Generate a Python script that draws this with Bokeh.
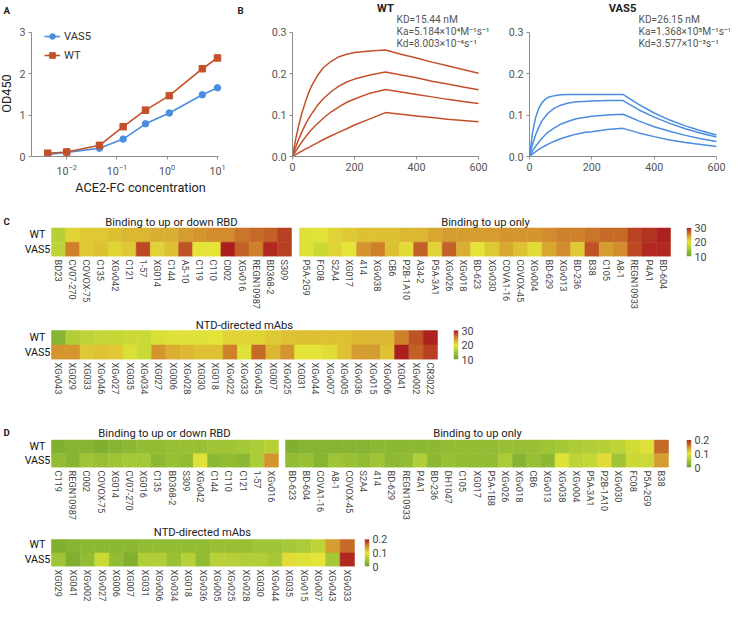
import numpy as np
from bokeh.plotting import figure
from bokeh.models import (ColumnDataSource, LinearColorMapper, Label, FixedTicker,
                          NumeralTickFormatter)
from bokeh.layouts import row, column
from bokeh.embed import file_html
from bokeh.resources import INLINE

# ---------------- data: panel A ----------------
a_conc = [0.0042, 0.010, 0.045, 0.133, 0.37, 1.1, 5.0, 10.0]
a_vas5 = [0.05, 0.10, 0.20, 0.42, 0.79, 1.05, 1.49, 1.66]
a_wt = [0.08, 0.11, 0.27, 0.72, 1.12, 1.47, 2.12, 2.38]

# ---------------- data: panel B ----------------
b_time = [0, 10, 20, 30, 40, 50, 60, 80, 100, 125, 150, 175, 200, 250, 300,
          350, 400, 450, 500, 550, 600]
b_wt_1 = [0, 0.041, 0.075, 0.104, 0.128, 0.150, 0.168, 0.195, 0.215, 0.230, 0.241, 0.247, 0.251, 0.255, 0.257,
          0.247, 0.238, 0.228, 0.219, 0.210, 0.201]
b_wt_2 = [0, 0.022, 0.042, 0.059, 0.075, 0.089, 0.101, 0.123, 0.140, 0.157, 0.170, 0.180, 0.187, 0.197, 0.204,
          0.197, 0.190, 0.182, 0.175, 0.168, 0.161]
b_wt_3 = [0, 0.0125, 0.024, 0.035, 0.045, 0.055, 0.064, 0.079, 0.093, 0.108, 0.120, 0.131, 0.139, 0.153, 0.162,
          0.156, 0.150, 0.144, 0.138, 0.133, 0.128]
b_wt_4 = [0, 0.0045, 0.009, 0.013, 0.017, 0.021, 0.025, 0.033, 0.041, 0.050, 0.059, 0.067, 0.076, 0.091, 0.106,
          0.102, 0.098, 0.094, 0.090, 0.087, 0.084]
b_vas5_1 = [0, 0.059, 0.095, 0.117, 0.130, 0.138, 0.143, 0.147, 0.149, 0.150, 0.150, 0.150, 0.150, 0.150, 0.150,
            0.126, 0.105, 0.088, 0.074, 0.062, 0.052]
b_vas5_2 = [0, 0.030, 0.053, 0.071, 0.086, 0.096, 0.105, 0.117, 0.124, 0.129, 0.132, 0.133, 0.134, 0.135, 0.135,
            0.113, 0.095, 0.080, 0.067, 0.056, 0.047]
b_vas5_3 = [0, 0.0135, 0.025, 0.035, 0.044, 0.052, 0.059, 0.069, 0.078, 0.085, 0.091, 0.094, 0.097, 0.100, 0.102,
            0.086, 0.072, 0.061, 0.051, 0.043, 0.036]
b_vas5_4 = [0, 0.0062, 0.012, 0.017, 0.022, 0.026, 0.030, 0.037, 0.043, 0.049, 0.054, 0.058, 0.060, 0.065, 0.068,
            0.057, 0.048, 0.040, 0.034, 0.029, 0.024]
b_wt_text = ["KD=15.44 nM", "Ka=5.184×10⁴M⁻¹s⁻¹", "Kd=8.003×10⁻⁴s⁻¹"]
b_vas5_text = ["KD=26.15 nM", "Ka=1.368×10⁵M⁻¹s⁻¹", "Kd=3.577×10⁻³s⁻¹"]

# ---------------- data: panel C (range 10-30) ----------------
c_ud_labels = ["BD23", "CV07-270", "COVOX-75", "C135", "XGv042", "C121", "1-57", "XG014", "C144",
               "A5-10", "C119", "C110", "C002", "XGv016", "REGN10987", "BD368-2", "S309"]
c_ud_wt = [16.5, 21, 21.5, 21.5, 22, 22.5, 22.5, 23, 23, 24, 24.5, 25, 25, 26, 26.5, 27, 28.5]
c_ud_vas5 = [17, 25.5, 21.5, 22, 21, 21.5, 28, 21, 22, 27.5, 20, 20, 30, 27, 25.5, 29.5, 28.5]

c_up_labels = ["P5A-2G9", "FC08", "S2A4", "XG017", "414", "XGv038", "CB6", "P2B-1A10", "A34-2",
               "P5A-3A1", "XGv026", "XGv018", "BD-623", "XGv030", "COVA1-16", "COVOX-45", "XGv004",
               "BD-629", "XGv013", "BD-236", "B38", "C105", "A8-1", "REGN10933", "P4A1", "BD-604"]
c_up_wt = [19.5, 20, 21, 21.5, 22, 22, 22, 22.5, 22.5, 23.5, 24, 24, 24, 24, 24.5, 24.5, 24.5,
           25, 25.5, 25.5, 26, 26.5, 26.5, 28.3, 29, 29.8]
c_up_vas5 = [19.5, 18, 21, 20, 24.5, 25.5, 22, 20.5, 27, 21, 27, 23, 20, 21.5, 23.5, 22, 20.5,
             23.5, 25, 21.5, 27.5, 24, 25, 28, 29.5, 29.5]

c_ntd_labels = ["XGv043", "XG029", "XG033", "XGv046", "XGv027", "XG035", "XGv034", "XG027", "XG006",
                "XGv028", "XG030", "XG018", "XGv022", "XGv033", "XGv045", "XG007", "XGv025", "XG031",
                "XGv044", "XGv007", "XGv005", "XGv036", "XGv015", "XGv006", "XG041", "XGv002", "CR3022"]
c_ntd_wt = [12.5, 16, 17, 17.5, 17.5, 18, 18, 19, 19.5, 19.5, 19.5, 20, 21, 21, 21, 21.5, 22, 22,
            22, 22, 22, 22.5, 22.5, 22.5, 25.5, 27.5, 29.8]
c_ntd_vas5 = [24.5, 24.5, 21.5, 22, 21.5, 19, 18, 24.5, 23, 22.5, 22, 22, 25.5, 19.5, 26.5, 22.5,
              24.5, 20, 20, 20.5, 22, 24, 24, 22, 30, 27, 28.5]

# ---------------- data: panel D (range 0-0.2) ----------------
d_ud_labels = ["C119", "REGN10987", "C002", "COVOX-75", "XG014", "CV07-270", "XG016", "C135",
               "BD368-2", "S309", "XGv042", "C144", "C110", "C121", "1-57", "XGv016"]
d_ud_wt = [0.02, 0.025, 0.025, 0.02, 0.025, 0.03, 0.035, 0.035, 0.04, 0.04, 0.04, 0.045, 0.045,
           0.05, 0.055, 0.065]
d_ud_vas5 = [0.035, 0.025, 0.045, 0.04, 0.045, 0.05, 0.05, 0.03, 0.04, 0.035, 0.095, 0.03, 0.035,
             0.03, 0.055, 0.145]

d_up_labels = ["BD-623", "BD-604", "COVA1-16", "A8-1", "COVOX-45", "S2A4", "414", "BD-629",
               "REGN10933", "P4A1", "BD-236", "DH1047", "C105", "XG017", "P5A-1B8", "XGv026",
               "XGv018", "CB6", "XGv013", "XGv038", "XGv004", "P5A-3A1", "P2B-1A10", "XGv030",
               "FC08", "P5A-2G9", "B38"]
d_up_wt = [0.02, 0.025, 0.025, 0.025, 0.025, 0.025, 0.03, 0.03, 0.03, 0.03, 0.03, 0.035, 0.035,
           0.035, 0.035, 0.04, 0.04, 0.04, 0.045, 0.05, 0.055, 0.06, 0.065, 0.07, 0.085, 0.095, 0.165]
d_up_vas5 = [0.035, 0.04, 0.025, 0.045, 0.04, 0.035, 0.045, 0.03, 0.035, 0.06, 0.03, 0.04, 0.035,
             0.035, 0.035, 0.055, 0.025, 0.04, 0.03, 0.095, 0.07, 0.075, 0.105, 0.045, 0.08, 0.08, 0.14]

d_ntd_labels = ["XG029", "XG041", "XGv002", "XGv027", "XG006", "XG007", "XG031", "XGv006", "XGv034",
                "XG018", "XGv036", "XGv005", "XGv025", "XGv028", "XG030", "XGv044", "XG035", "XGv015",
                "XGv007", "XGv043", "XGv033"]
d_ntd_wt = [0.02, 0.025, 0.03, 0.03, 0.03, 0.03, 0.035, 0.035, 0.035, 0.035, 0.035, 0.04, 0.04,
            0.04, 0.045, 0.045, 0.05, 0.055, 0.07, 0.14, 0.165]
d_ntd_vas5 = [0.045, 0.02, 0.035, 0.08, 0.035, 0.02, 0.06, 0.06, 0.04, 0.065, 0.035, 0.065, 0.065,
              0.06, 0.06, 0.05, 0.105, 0.095, 0.1, 0.05, 0.195]

rows = ["VAS5", "WT"]   # bottom to top

# ---------------- styling ----------------
SX = 0.974
SY = 0.974
FONT = "Roboto"
BLUE = "#4a8de0"
RED = "#c4502a"
AXC = "#8c8c8c"


def PX(v):
    return int(round(v * SX))


def PY(v):
    return int(round(v * SY))


def fs(v):
    return f"{v * SX:.1f}px"


anchors = [(0.0, (105, 160, 45)), (0.25, (165, 200, 55)), (0.5, (228, 228, 55)),
           (0.75, (210, 140, 45)), (1.0, (172, 30, 30))]
PAL = []
for i in range(256):
    f = i / 255
    for (f0, c0), (f1, c1) in zip(anchors[:-1], anchors[1:]):
        if f0 <= f <= f1:
            t = (f - f0) / (f1 - f0)
            c = [int(round(c0[k] + (c1[k] - c0[k]) * t)) for k in range(3)]
            PAL.append("#%02x%02x%02x" % tuple(c))
            break

map_c = LinearColorMapper(palette=PAL, low=10, high=30)
map_d = LinearColorMapper(palette=PAL, low=0, high=0.2)


def ext_x(d0, d1, p0, p1, f0, f1):
    """data d0..d1 sits at ref pixels p0..p1; frame spans ref pixels f0..f1."""
    k = (d1 - d0) / (PX(p1) - PX(p0))
    return d0 - (PX(p0) - PX(f0)) * k, d1 + (PX(f1) - PX(p1)) * k


def ext_y(d0, d1, pb, pt, ft, fb):
    """data d0 at ref pixel pb (bottom), d1 at pt (top); frame spans ft..fb."""
    k = (d1 - d0) / (PY(pb) - PY(pt))
    return d0 - (PY(fb) - PY(pb)) * k, d1 + (PY(pt) - PY(ft)) * k


def mkfig(canvas, frame, **kw):
    cx0, cy0, cx1, cy1 = canvas
    fx0, fy0, fx1, fy1 = frame
    p = figure(width=PX(cx1) - PX(cx0), height=PY(cy1) - PY(cy0),
               min_border_left=PX(fx0) - PX(cx0), min_border_right=PX(cx1) - PX(fx1),
               min_border_top=PY(fy0) - PY(cy0), min_border_bottom=PY(cy1) - PY(fy1),
               output_backend="svg", toolbar_location=None, **kw)
    p.outline_line_color = None
    p.xgrid.visible = False
    p.ygrid.visible = False
    return p


def add_text(p, frame, X, Y, text, size, align="left", baseline="middle", bold=False,
             color="#222222", angle=0):
    fx0, fy0, fx1, fy1 = frame
    p.add_layout(Label(x=PX(X) - PX(fx0), y=PY(fy1) - PY(Y), x_units="screen", y_units="screen",
                       text=text, text_font=FONT, text_font_size=fs(size), text_align=align,
                       text_baseline=baseline, text_font_style="bold" if bold else "normal",
                       text_color=color, angle=angle))


def style_axes(p):
    for ax in list(p.xaxis) + list(p.yaxis):
        ax.axis_line_color = AXC
        ax.major_tick_line_color = AXC
        ax.minor_tick_line_color = None
        ax.major_tick_in = 0
        ax.major_tick_out = 3
        ax.major_label_standoff = 3
        ax.major_label_text_font = FONT
        ax.major_label_text_font_size = fs(11)
        ax.major_label_text_color = "#555555"
        ax.axis_label_text_font = FONT
        ax.axis_label_text_font_size = fs(13)
        ax.axis_label_text_font_style = "normal"
        ax.axis_label_text_color = "#222222"
        ax.axis_label_standoff = 2


BAND1 = 202

# ---------------- left strip: "A" and y-axis title ----------------
st_c, st_f = (0, 0, 16, BAND1), (0, 0, 16, 161)
pS = mkfig(st_c, st_f, x_range=(0, 1), y_range=(0, 1), x_axis_location=None, y_axis_location=None)
add_text(pS, st_f, 3, 5, "A", 10, baseline="top", bold=True)
add_text(pS, st_f, 6, 97, "OD450", 13, align="center", angle=np.pi / 2)

# ---------------- panel A ----------------
fA_c, fA_f = (16, 0, 256, BAND1), (32, 0, 256, 161)
lx = ext_x(-2.70, 1.02, 32, 224, 32, 256)
ly = ext_y(0, 3, 161, 33, 0, 161)
pA = mkfig(fA_c, fA_f, x_axis_type="log", x_range=(10 ** lx[0], 10 ** lx[1]), y_range=ly)
pA.line(a_conc, a_vas5, line_color=BLUE, line_width=1.6, legend_label="VAS5")
pA.scatter(a_conc, a_vas5, marker="circle", size=6.5, fill_color=BLUE, line_color=BLUE, legend_label="VAS5")
pA.line(a_conc, a_wt, line_color=RED, line_width=1.6, legend_label="WT")
pA.scatter(a_conc, a_wt, marker="square", size=6.5, fill_color=RED, line_color=RED, legend_label="WT")
style_axes(pA)
pA.yaxis.ticker = FixedTicker(ticks=[0, 1, 2, 3])
pA.yaxis.bounds = (0, 3)
pA.xaxis.bounds = (10 ** -2.70, 10 ** 1.02)
pA.xaxis.axis_label = "ACE2-FC concentration"
lg = pA.legend[0]
lg.location = (PX(45) - PX(32), PY(161) - PY(65))
lg.border_line_color = None
lg.background_fill_alpha = 0
lg.padding = 0
lg.margin = 0
lg.spacing = PY(5)
lg.glyph_width = PX(16)
lg.glyph_height = PY(14)
lg.label_height = PY(14)
lg.label_standoff = PX(4)
lg.label_text_font = FONT
lg.label_text_font_size = fs(11.5)
lg.label_text_color = "#333333"
add_text(pA, fA_f, 243, 5, "B", 10, baseline="top", bold=True)


# ---------------- panel B ----------------
def kinetics(canvas, databox, curves, color, title, tx, texts):
    cx0, cy0, cx1, cy1 = canvas
    dx0, dy0, dx1, dy1 = databox
    frame = (dx0, cy0, cx1, dy1)
    p = mkfig(canvas, frame, x_range=ext_x(0, 600, dx0, dx1, dx0, cx1),
              y_range=ext_y(0, 0.3, dy1, dy0, cy0, dy1))
    for c in curves:
        p.line(b_time, c, line_color=color, line_width=1.5)
    style_axes(p)
    p.xaxis.ticker = FixedTicker(ticks=[0, 200, 400, 600])
    p.yaxis.ticker = FixedTicker(ticks=[0, 0.1, 0.2, 0.3])
    p.xaxis.bounds = (0, 600)
    p.yaxis.bounds = (0, 0.3)
    p.yaxis.formatter = NumeralTickFormatter(format="0.0")
    add_text(p, frame, (dx0 + dx1) / 2, 9, title, 11.5, align="center", bold=True)
    for i, t in enumerate(texts):
        add_text(p, frame, tx, 21 + 12 * i, t, 10.5, color="#555555")
    return p


pBw = kinetics((256, 0, 508, BAND1), (300, 33, 491, 161), [b_wt_1, b_wt_2, b_wt_3, b_wt_4],
               RED, "WT", 407, b_wt_text)
pBv = kinetics((508, 0, 750, BAND1), (543, 33, 735, 161), [b_vas5_1, b_vas5_2, b_vas5_3, b_vas5_4],
               BLUE, "VAS5", 655, b_vas5_text)


# ---------------- heatmaps ----------------
def heatmap(canvas, cells, labels, wt, vas5, mapper, show_rows, title, letter=None):
    cx0, cy0, cx1, cy1 = canvas
    gx0, gy0, gx1, gy1 = cells
    n = len(labels)
    frame = (cx0, cy0, cx1, gy1)
    p = mkfig(canvas, frame, x_range=ext_x(-0.5, n - 0.5, gx0, gx1, cx0, cx1),
              y_range=ext_y(-0.5, 1.5, gy1, gy0, cy0, gy1), y_axis_location=None)
    idx = list(range(n))
    src = ColumnDataSource(dict(x=idx + idx,
                                y=[rows.index("WT")] * n + [rows.index("VAS5")] * n,
                                v=wt + vas5))
    p.rect(x="x", y="y", width=1, height=1, source=src,
           fill_color={"field": "v", "transform": mapper},
           line_color={"field": "v", "transform": mapper}, line_width=0.5)
    xa = p.xaxis[0]
    xa.ticker = FixedTicker(ticks=idx, minor_ticks=[])
    xa.major_label_overrides = {i: lab for i, lab in enumerate(labels)}
    xa.major_label_orientation = "vertical"
    xa.axis_line_color = None
    xa.major_tick_line_color = None
    xa.minor_tick_line_color = None
    xa.major_tick_out = 0
    xa.major_tick_in = 0
    xa.minor_tick_out = 0
    xa.minor_tick_in = 0
    xa.major_label_standoff = 3
    xa.major_label_text_font = FONT
    xa.major_label_text_font_size = fs(9.4)
    xa.major_label_text_color = "#444444"
    rh = (gy1 - gy0) / 2
    if show_rows:
        add_text(p, frame, 37.5, gy0 + rh / 2, "WT", 11, align="center", color="#111111")
        add_text(p, frame, 37.5, gy0 + 1.5 * rh, "VAS5", 11, align="center", color="#111111")
    add_text(p, frame, (gx0 + gx1) / 2, gy0 - 5, title, 11.5, align="center", baseline="alphabetic")
    if letter:
        add_text(p, frame, 3, gy0 - 6, letter, 10, bold=True, baseline="alphabetic")
    return p


def cbar(canvas, bar, mapper, ticks, overrides=None):
    cx0, cy0, cx1, cy1 = canvas
    bx0, by0, bx1, by1 = bar
    lo, hi = mapper.low, mapper.high
    frame = (bx0, cy0, bx1, by1)
    p = mkfig(canvas, frame, x_range=(0, 1), y_range=ext_y(lo, hi, by1, by0, cy0, by1),
              x_axis_location=None, y_axis_location="right")
    arr = np.linspace(lo, hi, 100).reshape(100, 1)
    p.image(image=[arr], x=0, y=lo, dw=1, dh=hi - lo, color_mapper=mapper)
    ax = p.yaxis[0]
    ax.ticker = FixedTicker(ticks=ticks)
    ax.bounds = (lo, hi)
    ax.axis_line_color = None
    ax.major_tick_line_color = None
    ax.minor_tick_line_color = None
    ax.major_tick_out = 0
    ax.major_tick_in = 0
    ax.minor_tick_out = 0
    ax.minor_tick_in = 0
    ax.major_label_standoff = 3
    ax.major_label_text_font = FONT
    ax.major_label_text_font_size = fs(11)
    ax.major_label_text_color = "#444444"
    if overrides:
        ax.major_label_overrides = overrides
    return p


# band C1
c1a = heatmap((0, BAND1, 303, 320), (52, 234, 299, 264), c_ud_labels, c_ud_wt, c_ud_vas5, map_c, True,
              "Binding to up or down RBD", letter="C")
c1b = heatmap((303, BAND1, 690, 320), (307, 234, 688, 264), c_up_labels, c_up_wt, c_up_vas5, map_c, False,
              "Binding to up only")
c1cb = cbar((690, BAND1, 734, 320), (704, 234, 709, 264), map_c, [10, 20, 30])

# band C2
c2a = heatmap((0, 320, 455, 408), (52, 339, 449, 369), c_ntd_labels, c_ntd_wt, c_ntd_vas5, map_c, True,
              "NTD-directed mAbs")
c2cb = cbar((455, 320, 500, 408), (465, 339, 470, 369), map_c, [10, 20, 30])

# band D1
d_over = {0: "0", 0.1: "0.1", 0.2: "0.2"}
d1a = heatmap((0, 408, 289, 537), (52, 454, 285, 484), d_ud_labels, d_ud_wt, d_ud_vas5, map_d, True,
              "Binding to up or down RBD", letter="D")
d1b = heatmap((289, 408, 690, 537), (293, 454, 686, 484), d_up_labels, d_up_wt, d_up_vas5, map_d, False,
              "Binding to up only")
d1cb = cbar((690, 408, 734, 537), (704, 454, 709, 484), map_d, [0, 0.1, 0.2], d_over)

# band D2
d2a = heatmap((0, 537, 368, 620), (52, 554, 363, 584), d_ntd_labels, d_ntd_wt, d_ntd_vas5, map_d, True,
              "NTD-directed mAbs")
d2cb = cbar((368, 537, 415, 620), (374, 554, 379, 584), map_d, [0, 0.1, 0.2], d_over)

layout = column(
    row(pS, pA, pBw, pBv, spacing=0),
    row(c1a, c1b, c1cb, spacing=0),
    row(c2a, c2cb, spacing=0),
    row(d1a, d1b, d1cb, spacing=0),
    row(d2a, d2cb, spacing=0),
    spacing=0,
)

open("out.html", "w").write(file_html(layout, INLINE))
